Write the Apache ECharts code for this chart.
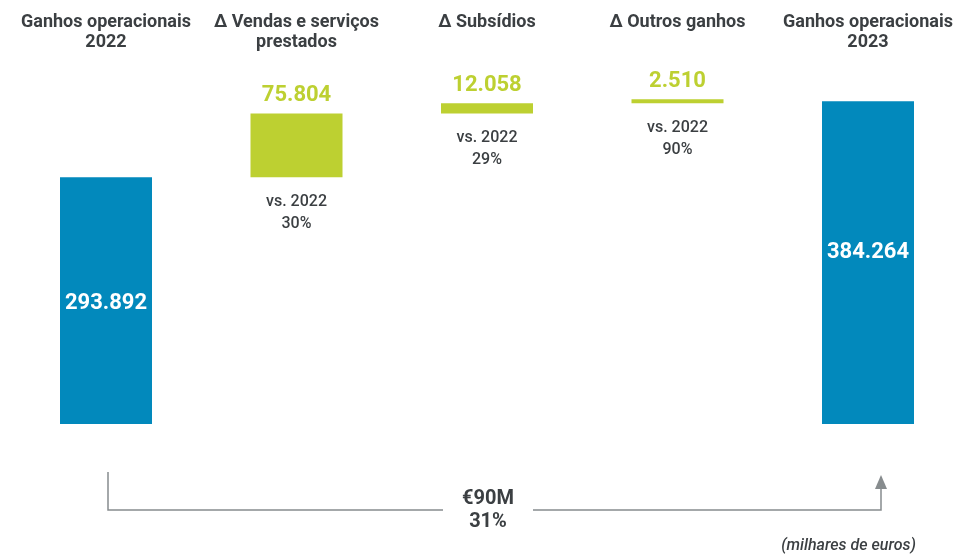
<!DOCTYPE html>
<html>
<head>
<meta charset="utf-8">
<script src="https://cdn.jsdelivr.net/npm/echarts@6/dist/echarts.min.js"></script>
<style>
  html, body { margin: 0; padding: 0; background: #ffffff; overflow: hidden; }
  #chart { width: 964px; height: 555px; }
</style>
</head>
<body>
<div id="chart"></div>
<script>
// Operating income bridge, 2022 -> 2023 (thousands of euros)
const categories = [
  'Ganhos operacionais\n2022',
  '\u2206 Vendas e serviços\nprestados',
  '\u2206 Subsídios',
  '\u2206 Outros ganhos',
  'Ganhos operacionais\n2023'
];
const startTotal = 293892;
const endTotal = 384264;
const deltas = [75804, 12058, 2510];
const deltaGrowth = ['30%', '29%', '90%'];
const unitNote = '(milhares de euros)';

const BLUE = '#0289bc';
const GREEN = '#bdd031';
const TEXT = '#3b3f42';
const LINE = '#878c8e';
const FONT = 'Roboto, "Open Sans", sans-serif';

function fmt(v) {
  return String(v).replace(/\B(?=(\d{3})+(?!\d))/g, '.');
}

// Floating bases for the delta bars (running total before each step)
const bases = [];
let running = startTotal;
deltas.forEach(d => { bases.push(running); running += d; });

const baseData = ['-'].concat(bases.map((b, i) => ({
  value: b,
  growth: deltaGrowth[i]
}))).concat(['-']);
const totalData = [
  { value: startTotal, label: { offset: [0, 3] } },
  '-', '-', '-',
  { value: endTotal, label: { offset: [0, -10] } }
];
const deltaData = ['-'].concat(deltas).concat(['-']);

const chart = echarts.init(document.getElementById('chart'));

chart.setOption({
  animation: false,
  grid: { left: 10.75, width: 952.5, top: 88, bottom: 131 },
  xAxis: {
    type: 'category',
    position: 'top',
    data: categories,
    axisLine: { show: false },
    axisTick: { show: false },
    axisLabel: {
      interval: 0,
      margin: 76,
      verticalAlign: 'top',
      color: TEXT,
      fontFamily: FONT,
      fontSize: 18,
      fontWeight: 'bold',
      lineHeight: 20,
      align: 'center'
    }
  },
  yAxis: {
    type: 'value',
    min: 0,
    max: 400000,
    show: false,
    splitLine: { show: false }
  },
  series: [
    {
      name: 'base',
      type: 'bar',
      stack: 'bridge',
      barWidth: 92,
      itemStyle: { color: 'rgba(0,0,0,0)' },
      data: baseData,
      label: {
        show: true,
        position: 'insideTop',
        distance: 14,
        formatter: p => 'vs. 2022\n' + p.data.growth,
        color: TEXT,
        fontFamily: FONT,
        fontSize: 16,
        fontWeight: 500,
        lineHeight: 22
      },
      silent: true
    },
    {
      name: 'totals',
      type: 'bar',
      stack: 'bridge',
      barWidth: 92,
      itemStyle: { color: BLUE },
      data: totalData,
      label: {
        show: true,
        position: 'inside',
        formatter: p => fmt(p.value),
        color: '#ffffff',
        fontFamily: FONT,
        fontSize: 22,
        fontWeight: 'bold'
      }
    },
    {
      name: 'deltas',
      type: 'bar',
      stack: 'bridge',
      barWidth: 92,
      barMinHeight: 4,
      itemStyle: { color: GREEN },
      data: deltaData,
      label: {
        show: true,
        position: 'top',
        distance: 7,
        formatter: p => fmt(p.value),
        color: GREEN,
        fontFamily: FONT,
        fontSize: 22,
        fontWeight: 'bold'
      }
    }
  ]
});

// Bracket below the bars: overall change from the first to the last total
const x0 = chart.convertToPixel({ xAxisIndex: 0 }, 0) + 2;
const x1 = chart.convertToPixel({ xAxisIndex: 0 }, categories.length - 1) + 13;
const yLine = 510;
const midX = 488;
const change = endTotal - startTotal;
const changeText = '€' + Math.round(change / 1000) + 'M';
const changePct = Math.round(change / startTotal * 100) + '%';

chart.setOption({
  graphic: [
    {
      type: 'polyline',
      shape: { points: [[x0, 472], [x0, yLine], [midX - 45, yLine]] },
      style: { stroke: LINE, lineWidth: 1.5, fill: null }
    },
    {
      type: 'polyline',
      shape: { points: [[midX + 45, yLine], [x1, yLine], [x1, 487]] },
      style: { stroke: LINE, lineWidth: 1.5, fill: null }
    },
    {
      type: 'polygon',
      shape: { points: [[x1, 475], [x1 - 6, 489], [x1 + 6, 489]] },
      style: { fill: LINE }
    },
    {
      type: 'text',
      x: midX,
      y: 510,
      style: {
        text: changeText + '\n' + changePct,
        fill: TEXT,
        font: 'bold 20px ' + FONT,
        lineHeight: 23,
        align: 'center',
        verticalAlign: 'middle'
      }
    },
    {
      type: 'text',
      x: 916,
      y: 546,
      style: {
        text: unitNote,
        fill: TEXT,
        font: 'italic 500 16px ' + FONT,
        align: 'right',
        verticalAlign: 'middle'
      }
    }
  ]
});
</script>
</body>
</html>
